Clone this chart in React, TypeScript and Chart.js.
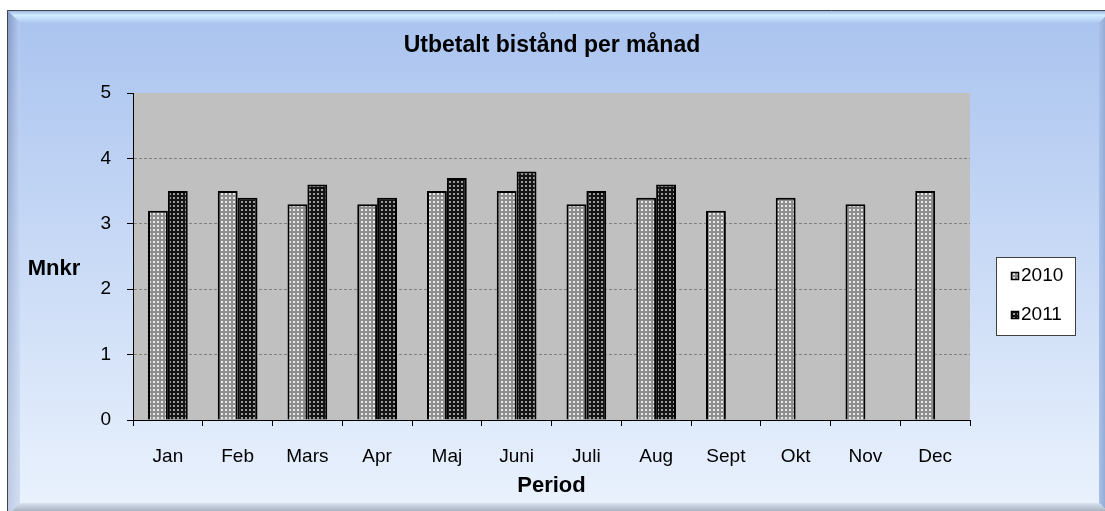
import React, { useEffect, useRef } from "react";
import { Chart, registerables } from "chart.js";

Chart.register(...registerables);

const months = ["Jan", "Feb", "Mars", "Apr", "Maj", "Juni", "Juli", "Aug", "Sept", "Okt", "Nov", "Dec"];
const values2010 = [3.2, 3.5, 3.3, 3.3, 3.5, 3.5, 3.3, 3.4, 3.2, 3.4, 3.3, 3.5];
const values2011 = [3.5, 3.4, 3.6, 3.4, 3.7, 3.8, 3.5, 3.6, null, null, null, null];
const seriesLabels = ["2010", "2011"];
const yTicks = [0, 1, 2, 3, 4, 5];
const chartTitle = "Utbetalt bistånd per månad";
const yTitle = "Mnkr";
const xTitle = "Period";

const FONT = "'Liberation Sans', Arial, sans-serif";

function makePattern(bg: string, dot: string): CanvasPattern | string {
  const c = document.createElement("canvas");
  c.width = 4;
  c.height = 4;
  const x = c.getContext("2d");
  if (!x) return bg;
  x.fillStyle = bg;
  x.fillRect(0, 0, 4, 4);
  x.fillStyle = dot;
  x.fillRect(1, 1, 2, 2);
  const p = x.createPattern(c, "repeat");
  return p || bg;
}

const decorPlugin = {
  id: "decor",
  beforeDraw(chart: any) {
    const ctx = chart.ctx as CanvasRenderingContext2D;
    const W = chart.width;
    const H = chart.height;
    ctx.save();
    ctx.fillStyle = "#ffffff";
    ctx.fillRect(0, 0, W, H);
    const L = 7, T = 10, R = 1112, B = 516, bv = 13;
    const g = ctx.createLinearGradient(0, T, 0, H);
    g.addColorStop(0, "#a9c3ef");
    g.addColorStop(1, "#eaf2fd");
    ctx.fillStyle = g;
    ctx.fillRect(L, T, R - L, B - T);
    const gt = ctx.createLinearGradient(0, T, 0, T + bv);
    gt.addColorStop(0, "#93acd9");
    gt.addColorStop(0.4, "#d2ecff");
    gt.addColorStop(1, "#adc7f1");
    ctx.fillStyle = gt;
    ctx.beginPath();
    ctx.moveTo(L, T); ctx.lineTo(R, T); ctx.lineTo(R - bv, T + bv); ctx.lineTo(L + bv, T + bv); ctx.closePath();
    ctx.fill();
    const gl = ctx.createLinearGradient(L, 0, L + bv, 0);
    gl.addColorStop(0, "#8399c4");
    gl.addColorStop(1, "#b3cbf2");
    ctx.fillStyle = gl;
    ctx.beginPath();
    ctx.moveTo(L, T); ctx.lineTo(L + bv, T + bv); ctx.lineTo(L + bv, B - bv); ctx.lineTo(L, B); ctx.closePath();
    ctx.fill();
    const glv = ctx.createLinearGradient(0, T, 0, B);
    glv.addColorStop(0, "rgba(255,255,255,0)");
    glv.addColorStop(1, "rgba(230,236,245,0.6)");
    ctx.fillStyle = glv;
    ctx.fill();
    const gr = ctx.createLinearGradient(R - bv, 0, R, 0);
    gr.addColorStop(0, "#a9c1ea");
    gr.addColorStop(1, "#7e94bd");
    ctx.fillStyle = gr;
    ctx.beginPath();
    ctx.moveTo(R, T); ctx.lineTo(R, B); ctx.lineTo(R - bv, B - bv); ctx.lineTo(R - bv, T + bv); ctx.closePath();
    ctx.fill();
    const gb = ctx.createLinearGradient(0, B - bv, 0, B);
    gb.addColorStop(0, "#d9e2ef");
    gb.addColorStop(1, "#8c96a6");
    ctx.fillStyle = gb;
    ctx.beginPath();
    ctx.moveTo(L, B); ctx.lineTo(L + bv, B - bv); ctx.lineTo(R - bv, B - bv); ctx.lineTo(R, B); ctx.closePath();
    ctx.fill();
    ctx.strokeStyle = "#3c4450";
    ctx.lineWidth = 1;
    ctx.beginPath();
    ctx.moveTo(L + 0.5, B); ctx.lineTo(L + 0.5, T + 0.5); ctx.lineTo(R, T + 0.5);
    ctx.stroke();
    const a = chart.chartArea;
    ctx.fillStyle = "#c0c0c0";
    ctx.fillRect(a.left, a.top, a.right - a.left, a.bottom - a.top);
    ctx.restore();
  },
  afterDraw(chart: any) {
    const ctx = chart.ctx as CanvasRenderingContext2D;
    const a = chart.chartArea;
    ctx.save();
    ctx.fillStyle = "#000";
    ctx.textAlign = "center";
    ctx.textBaseline = "middle";
    ctx.font = `bold 23px ${FONT}`;
    ctx.fillText(chartTitle, 552, 46);
    ctx.font = `bold 22px ${FONT}`;
    ctx.fillText(yTitle, 54, 269);
    ctx.fillText(xTitle, (a.left + a.right) / 2, 486);
    ctx.fillStyle = "#ffffff";
    ctx.fillRect(996, 257, 79, 78);
    ctx.strokeStyle = "#404040";
    ctx.lineWidth = 1;
    ctx.strokeRect(996.5, 257.5, 79, 78);
    const rows = [276, 315];
    chart.data.datasets.forEach((ds: any, i: number) => {
      const y = rows[i];
      ctx.fillStyle = ds.backgroundColor;
      ctx.fillRect(1011, y - 4, 8, 8);
      ctx.strokeStyle = "#000";
      ctx.lineWidth = 1.5;
      ctx.strokeRect(1011.5, y - 3.5, 7, 7);
      ctx.fillStyle = "#000";
      ctx.textAlign = "left";
      ctx.font = `19px ${FONT}`;
      ctx.fillText(ds.label, 1021, y);
    });
    ctx.restore();
  },
};

export default function App() {
  const ref = useRef<HTMLCanvasElement | null>(null);
  useEffect(() => {
    document.body.style.margin = "0";
    const canvas = ref.current;
    if (!canvas) return;
    const p2010 = makePattern("#8e8e8e", "#e8e8e8");
    const p2011 = makePattern("#141414", "#9a9a9a");
    const chart = new Chart(canvas, {
      type: "bar",
      data: {
        labels: months,
        datasets: [
          {
            label: seriesLabels[0],
            data: values2010,
            backgroundColor: p2010 as any,
            borderColor: "#000",
            borderWidth: 2,
            categoryPercentage: 0.57,
            barPercentage: 1,
          },
          {
            label: seriesLabels[1],
            data: values2011,
            backgroundColor: p2011 as any,
            borderColor: "#000",
            borderWidth: 2,
            categoryPercentage: 0.57,
            barPercentage: 1,
          },
        ],
      },
      options: {
        responsive: false,
        animation: false,
        devicePixelRatio: 1,
        layout: { padding: { top: 93, right: 135, bottom: 0, left: 0 } },
        plugins: {
          legend: { display: false },
          title: { display: false },
          tooltip: { enabled: false },
        },
        scales: {
          x: {
            afterFit: (s: any) => { s.height = 91; },
            grid: {
              drawOnChartArea: false,
              drawTicks: true,
              tickLength: 6,
              tickColor: "#000",
              offset: true,
            },
            border: { display: true, color: "#000", width: 1 },
            ticks: {
              color: "#000",
              font: { family: FONT, size: 19 },
              padding: 19,
              maxRotation: 0,
              autoSkip: false,
            },
          },
          y: {
            min: 0,
            max: 5,
            afterFit: (s: any) => { s.width = 133; },
            afterBuildTicks: (s: any) => { s.ticks = yTicks.map((v) => ({ value: v })); },
            grid: {
              color: (c: any) => (c.tick && c.tick.value > 0 && c.tick.value < 5 ? "#808080" : "rgba(0,0,0,0)"),
              tickColor: "#000",
              tickLength: 6,
              tickBorderDash: [],
            } as any,
            border: { display: true, color: "#000", width: 1, dash: [3, 2] } as any,
            ticks: {
              color: "#000",
              font: { family: FONT, size: 19 },
              padding: 16,
            },
          },
        },
      },
      plugins: [decorPlugin],
    });
    return () => chart.destroy();
  }, []);
  return <canvas ref={ref} width={1105} height={511} style={{ display: "block" }} />;
}
